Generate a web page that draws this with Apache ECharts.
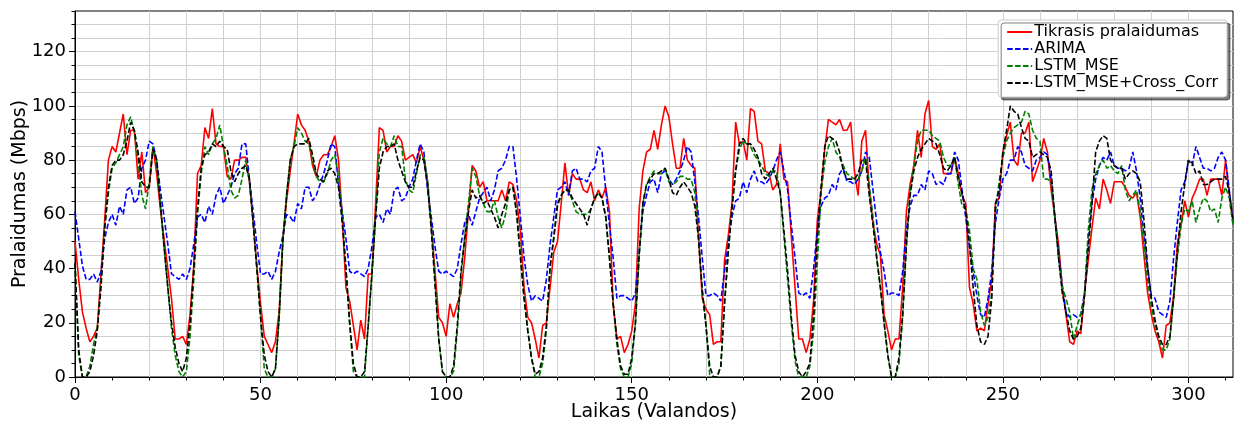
<!DOCTYPE html>
<html>
<head>
<meta charset="utf-8">
<script src="https://cdn.jsdelivr.net/npm/echarts@6/dist/echarts.min.js"></script>
<style>
html,body{margin:0;padding:0;background:#fff;}
#chart{width:1243px;height:425px;}
</style>
</head>
<body>
<div id="chart"></div>
<script>
const seriesNames = ['Tikrasis pralaidumas', 'ARIMA', 'LSTM_MSE', 'LSTM_MSE+Cross_Corr'];
const xTickLabels = [0, 50, 100, 150, 200, 250, 300];
const yTickLabels = [0, 20, 40, 60, 80, 100, 120];
const xTitle = 'Laikas (Valandos)';
const yTitle = 'Pralaidumas (Mbps)';

const actual = [
50,36,24,18,13,15,18,38,58,80,
85,83,90,97,82,91,91,73,83,68,
70,85,75,62,51,40,29,14,14,15,
12,23,41,75,78,92,88,99,86,85,
85,74,73,80,80,81,81,72,57,41,
27,15,12,9,13,24,51,65,76,86,
97,93,91,87,78,74,80,82,82,85,
89,80,59,33,28,19,10,21,14,38,
38,64,92,91,83,85,85,89,87,80,
81,82,79,85,80,71,56,39,22,20,
15,27,22,27,31,44,61,78,76,70,
72,65,65,65,65,69,65,72,71,65,
54,33,22,20,14,7,19,20,33,46,
50,64,79,67,75,73,73,69,68,72,
65,69,66,70,61,27,14,15,9,12,
17,27,62,76,83,84,91,84,93,100,
96,86,77,77,88,80,78,77,52,29,
25,23,12,13,13,43,52,64,94,86,
87,80,99,98,87,86,76,75,69,71,
86,73,72,52,33,14,14,9,14,28,
58,68,84,95,94,93,95,91,91,94,
76,67,87,91,69,57,49,45,23,17,
10,14,14,33,61,71,78,91,81,97,
102,85,84,86,75,75,75,81,75,67,
64,33,27,17,18,17,27,36,64,66,
83,89,94,80,78,90,90,94,72,76,
80,88,83,69,59,49,33,23,13,12,
17,16,31,43,55,66,62,73,69,64,
72,72,72,70,67,66,68,59,45,31,
23,17,13,7,19,20,30,49,56,65,
59,66,69,73,73,67,73,73,73,67,
80,68,57
];

const arima = [
61,51,41,36,36,38,35,39,51,57,
60,56,63,60,69,70,64,66,77,80,
87,86,80,69,59,49,38,37,36,38,
36,40,49,59,60,57,63,60,67,70,
64,67,70,75,77,86,86,73,61,49,
38,38,39,36,39,46,52,60,59,57,
64,62,70,70,65,67,71,75,80,86,
85,71,61,51,39,38,39,38,37,40,
48,59,60,57,62,60,69,70,65,66,
70,73,80,86,83,69,59,48,39,38,
39,38,37,40,49,57,60,56,61,66,
68,70,65,69,76,77,80,85,85,73,
59,44,34,28,30,29,28,36,49,59,
69,70,72,67,76,77,73,73,72,76,
77,85,83,69,56,44,29,30,30,29,
28,31,46,61,67,72,73,68,75,76,
73,71,73,76,80,85,83,72,59,44,
30,30,31,30,28,39,49,59,65,66,
72,68,73,76,72,72,71,73,76,80,
83,76,69,56,44,31,30,31,29,40,
54,63,66,67,71,69,75,77,72,72,
71,73,76,83,81,69,57,46,39,30,
31,31,30,39,54,63,67,67,71,69,
76,75,71,72,71,75,75,83,80,69,
59,48,39,30,23,22,29,39,57,66,
73,75,80,80,85,83,78,77,76,80,
81,83,82,73,59,46,34,24,22,23,
22,23,31,51,64,73,78,81,80,83,
78,77,77,76,77,83,76,66,52,40,
30,29,24,23,22,28,44,57,69,72,
80,78,85,81,77,77,76,77,81,83,
80,69,57
];

const lstmMse = [
42,8,0,0,4,12,18,35,55,68,
77,79,82,85,93,96,90,80,67,62,
72,85,80,64,48,33,18,8,2,0,
2,15,36,60,75,85,82,86,88,93,
85,78,69,66,67,73,80,72,57,40,
22,3,0,0,3,22,50,67,80,85,
92,90,87,86,80,74,72,72,75,80,
82,74,60,40,20,2,0,0,0,19,
38,60,83,88,86,85,89,85,85,73,
69,68,75,82,81,73,56,36,14,2,
0,0,2,17,37,52,64,77,74,67,
64,61,61,65,59,55,60,69,70,61,
46,29,17,7,0,0,5,17,40,52,
63,67,69,69,65,61,60,60,60,62,
66,68,66,59,44,27,12,3,0,0,
5,20,45,64,71,74,76,75,75,77,
72,71,72,74,74,73,73,68,51,32,
19,1,0,0,4,27,46,62,76,84,
87,86,85,82,80,78,75,74,76,76,
68,52,36,20,6,0,0,0,4,17,
42,68,79,85,88,83,81,78,75,74,
73,73,76,81,71,59,44,33,20,8,
0,0,5,22,48,68,78,87,91,91,
91,89,88,87,81,78,78,81,71,63,
62,54,40,36,24,19,22,31,61,72,
81,87,90,92,93,94,98,97,91,88,
87,73,73,72,59,44,33,29,24,14,
19,23,30,54,69,75,78,80,77,78,
76,75,78,69,65,67,69,61,49,36,
26,19,14,10,10,14,29,44,56,62,
61,65,57,62,66,65,61,62,57,66,
70,66,56
];

const lstmCross = [
42,10,0,0,2,8,17,33,55,70,
78,80,80,82,87,94,91,83,72,70,
70,84,80,64,48,33,20,11,5,2,
7,20,40,62,77,82,83,86,85,87,
85,84,76,72,75,77,78,73,57,40,
22,8,2,0,3,22,50,67,80,85,
86,86,86,88,82,75,73,72,76,77,
75,70,57,40,20,5,0,0,2,19,
38,59,77,83,85,85,86,80,76,72,
70,70,76,81,80,71,54,34,14,2,
0,0,4,19,39,51,61,69,66,67,
64,65,62,59,55,60,64,69,70,60,
44,29,17,7,1,2,7,19,41,51,
64,67,69,69,66,64,62,60,56,62,
66,68,66,59,44,27,14,4,1,1,
7,20,45,64,71,73,75,75,76,77,
73,68,67,70,72,70,68,63,51,32,
19,4,0,0,4,27,46,62,76,86,
88,86,86,84,81,75,73,75,77,73,
68,54,39,22,8,2,0,2,5,23,
52,70,85,89,88,87,83,76,73,73,
73,75,80,80,67,56,44,33,20,8,
0,0,7,23,49,67,76,81,84,86,
88,87,86,82,77,76,78,81,73,68,
61,49,33,19,13,12,15,29,64,69,
83,91,100,98,97,92,88,87,81,82,
83,82,81,76,59,44,31,24,17,14,
15,18,30,47,64,83,87,89,88,80,
78,77,77,73,75,76,75,72,58,41,
29,21,15,12,12,15,29,46,61,71,
80,79,75,76,71,71,72,73,73,73,
74,68,58
];

const FONT = 'DejaVu Sans';
const X_MAX = 312, Y_MAX = 135;
const minorX = [], minorY = [];
for (let v = 10; v < X_MAX; v += 10) minorX.push(v);
for (let v = 5; v <= Y_MAX; v += 5) minorY.push(v);

function pairs(arr) { return arr.map((v, i) => [i, v]); }
const dash = [5.5, 2.4];

const chart = echarts.init(document.getElementById('chart'), null, {renderer: 'canvas'});
chart.setOption({
  animation: false,
  backgroundColor: '#fff',
  textStyle: {fontFamily: FONT},
  grid: {left: 75, right: 10, top: 11, bottom: 48, show: true, borderColor: '#000', borderWidth: 1,
         backgroundColor: 'transparent', containLabel: false, outerBoundsMode: 'none'},
  graphic: [
    {type: 'text', x: 20, y: 194, rotation: Math.PI / 2,
     style: {text: yTitle, fontSize: 19, fontFamily: FONT, fill: '#000', align: 'center', verticalAlign: 'middle'}},
    {type: 'text', x: 654, y: 412,
     style: {text: xTitle, fontSize: 19, fontFamily: FONT, fill: '#000', align: 'center', verticalAlign: 'middle'}}
  ],
  legend: {
    orient: 'vertical', right: 16, top: 20,
    itemWidth: 25, itemHeight: 10, itemGap: 1,
    padding: [4, 9, 6, 8],
    backgroundColor: '#fff', borderColor: '#cccccc', borderWidth: 1, borderRadius: 3,
    shadowColor: 'rgba(0,0,0,0.5)', shadowBlur: 0, shadowOffsetX: 3, shadowOffsetY: 3,
    itemStyle: {opacity: 0},
    textStyle: {fontFamily: FONT, fontSize: 16, color: '#000', lineHeight: 16, padding: [0, 0, 0, -3]},
    data: seriesNames
  },
  xAxis: [
    {type: 'value', min: 0, max: X_MAX, interval: 10, position: 'bottom',
     axisLine: {show: false},
     axisTick: {show: true, length: 3.5, customValues: minorX, lineStyle: {color: '#000', width: 1}},
     axisLabel: {show: false},
     splitLine: {show: true, showMinLine: false, showMaxLine: false, lineStyle: {color: '#d0d0d0', width: 1}}},
    {type: 'value', min: 0, max: X_MAX, interval: 50, position: 'bottom',
     axisLine: {show: true, onZero: false, lineStyle: {color: '#000', width: 1}},
     axisTick: {show: true, length: 6, customValues: xTickLabels, lineStyle: {color: '#000', width: 1}},
     axisLabel: {fontSize: 18, color: '#000', margin: 9, customValues: xTickLabels, fontFamily: FONT},
     splitLine: {show: false}}
  ],
  yAxis: [
    {type: 'value', min: 0, max: Y_MAX, interval: 5, position: 'left',
     axisLine: {show: false},
     axisTick: {show: true, length: 3.5, customValues: minorY, lineStyle: {color: '#000', width: 1}},
     axisLabel: {show: false},
     splitLine: {show: true, showMinLine: false, showMaxLine: false, lineStyle: {color: '#d0d0d0', width: 1}}},
    {type: 'value', min: 0, max: Y_MAX, interval: 20, position: 'left',
     axisLine: {show: true, onZero: false, lineStyle: {color: '#000', width: 1}},
     axisTick: {show: true, length: 6, customValues: yTickLabels, lineStyle: {color: '#000', width: 1}},
     axisLabel: {fontSize: 18, color: '#000', margin: 9, customValues: yTickLabels, fontFamily: FONT},
     splitLine: {show: false}}
  ],
  series: [
    {name: seriesNames[0], type: 'line', xAxisIndex: 1, yAxisIndex: 1, data: pairs(actual), symbol: 'none', color: '#ff0000',
     lineStyle: {color: '#ff0000', width: 1.6, type: 'solid'}},
    {name: seriesNames[1], type: 'line', xAxisIndex: 1, yAxisIndex: 1, data: pairs(arima), symbol: 'none', color: '#0000ff',
     lineStyle: {color: '#0000ff', width: 1.6, type: dash}},
    {name: seriesNames[2], type: 'line', xAxisIndex: 1, yAxisIndex: 1, data: pairs(lstmMse), symbol: 'none', color: '#008000',
     lineStyle: {color: '#008000', width: 1.6, type: dash}},
    {name: seriesNames[3], type: 'line', xAxisIndex: 1, yAxisIndex: 1, data: pairs(lstmCross), symbol: 'none', color: '#000000',
     lineStyle: {color: '#000000', width: 1.6, type: dash}}
  ]
});
</script>
</body>
</html>
